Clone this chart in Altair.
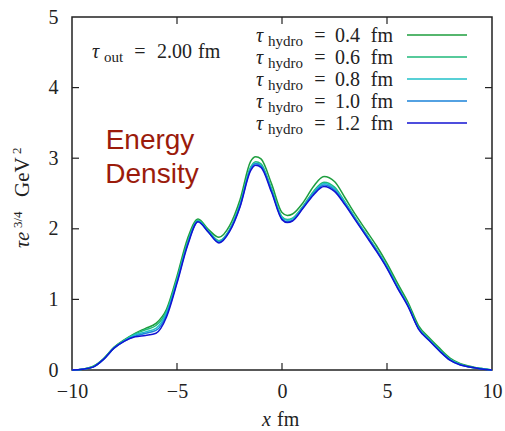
import altair as alt
import pandas as pd

# Transverse profile of tau * e^(3/4) at tau_out = 2.00 fm for several hydro start times
x_fm = [-10, -9.5, -9, -8.5, -8, -7.5, -7, -6.5, -6, -5.5, -5, -4.5, -4, -3.5, -3,
        -2.5, -2, -1.5, -1.25, -1, -0.5, 0, 0.25, 0.5, 1, 1.5, 2, 2.5, 3, 3.5, 4,
        4.5, 5, 5.5, 6, 6.5, 7, 7.5, 8, 8.5, 9, 9.5, 10]

e_04 = [0.00, 0.01, 0.05, 0.16, 0.32, 0.43, 0.52, 0.59, 0.66, 0.86, 1.33, 1.86, 2.14, 1.99, 1.88,
        2.04, 2.41, 2.95, 3.02, 2.99, 2.64, 2.23, 2.19, 2.21, 2.37, 2.60, 2.74, 2.67, 2.44, 2.20, 1.98,
        1.76, 1.51, 1.23, 0.96, 0.63, 0.46, 0.31, 0.17, 0.09, 0.05, 0.02, 0.00]
e_06 = [0.00, 0.01, 0.05, 0.16, 0.32, 0.42, 0.51, 0.57, 0.63, 0.83, 1.29, 1.81, 2.12, 1.97, 1.83,
        1.99, 2.35, 2.87, 2.95, 2.92, 2.57, 2.17, 2.13, 2.15, 2.32, 2.53, 2.66, 2.59, 2.38, 2.15, 1.93,
        1.71, 1.47, 1.19, 0.92, 0.60, 0.44, 0.29, 0.15, 0.08, 0.04, 0.02, 0.00]
e_08 = [0.00, 0.01, 0.04, 0.15, 0.31, 0.42, 0.50, 0.54, 0.59, 0.81, 1.27, 1.79, 2.11, 1.96, 1.82,
        1.98, 2.34, 2.86, 2.93, 2.90, 2.55, 2.16, 2.12, 2.14, 2.31, 2.51, 2.64, 2.57, 2.37, 2.14, 1.92,
        1.70, 1.46, 1.18, 0.92, 0.59, 0.43, 0.28, 0.15, 0.08, 0.04, 0.02, 0.00]
e_10 = [0.00, 0.01, 0.04, 0.15, 0.31, 0.41, 0.48, 0.52, 0.56, 0.78, 1.25, 1.78, 2.10, 1.95, 1.81,
        1.97, 2.32, 2.84, 2.92, 2.89, 2.54, 2.14, 2.10, 2.12, 2.30, 2.50, 2.62, 2.55, 2.35, 2.13, 1.91,
        1.69, 1.45, 1.17, 0.91, 0.59, 0.42, 0.27, 0.14, 0.07, 0.04, 0.015, 0.00]
e_12 = [0.00, 0.01, 0.04, 0.15, 0.31, 0.41, 0.47, 0.49, 0.52, 0.75, 1.23, 1.76, 2.10, 1.95, 1.80,
        1.96, 2.31, 2.82, 2.90, 2.87, 2.52, 2.13, 2.09, 2.11, 2.29, 2.48, 2.60, 2.53, 2.34, 2.12, 1.90,
        1.68, 1.44, 1.16, 0.90, 0.58, 0.42, 0.27, 0.14, 0.07, 0.04, 0.015, 0.00]

tau_hydro = ["0.4", "0.6", "0.8", "1.0", "1.2"]
colors = ["#1e9e3e", "#1fb97a", "#20c1c9", "#1a82d9", "#1212d2"]
series = [e_04, e_06, e_08, e_10, e_12]

x_ticks = [-10, -5, 0, 5, 10]
y_ticks = [0, 1, 2, 3, 4, 5]
inner_x_ticks = [-5, 0, 5]
inner_y_ticks = [1, 2, 3, 4]

SERIF = "Liberation Serif"
SANS = "Liberation Sans"
INK = "#222222"
W, H = 420, 353

records = []
for tau, vals in zip(tau_hydro, series):
    for xv, ev in zip(x_fm, vals):
        records.append({"x": xv, "e": ev, "tau": tau})
df = pd.DataFrame(records)

xs = alt.Scale(domain=[-10, 10], nice=False, zero=False)
ys = alt.Scale(domain=[0, 5], nice=False)
cs = alt.Scale(domain=tau_hydro, range=colors)

x_axis = alt.Axis(values=x_ticks, title=None, labelPadding=11, labelFlush=False,
                  domain=False, ticks=False, grid=False, labelFont=SERIF,
                  labelFontSize=20, labelColor=INK)
y_axis = alt.Axis(values=y_ticks, title=None, labelPadding=14,
                  domain=False, ticks=False, grid=False, labelFont=SERIF,
                  labelFontSize=20, labelColor=INK)

lines = alt.Chart(df).mark_line(strokeWidth=1.5, interpolate="monotone").encode(
    x=alt.X("x:Q", scale=xs, axis=x_axis),
    y=alt.Y("e:Q", scale=ys, axis=y_axis),
    color=alt.Color("tau:N", scale=cs, legend=None),
    detail="tau:N",
)

# inward tick marks on all four sides of the frame
tick = dict(color=INK, strokeWidth=1.2)
xt = pd.DataFrame({"x": inner_x_ticks})
yt = pd.DataFrame({"e": inner_y_ticks})
ticks_bottom = alt.Chart(xt).mark_rule(**tick).encode(
    x=alt.X("x:Q", scale=xs, axis=x_axis), y=alt.value(H), y2=alt.value(H - 7))
ticks_top = alt.Chart(xt).mark_rule(**tick).encode(
    x=alt.X("x:Q", scale=xs, axis=x_axis), y=alt.value(0), y2=alt.value(7))
ticks_left = alt.Chart(yt).mark_rule(**tick).encode(
    y=alt.Y("e:Q", scale=ys, axis=y_axis), x=alt.value(0), x2=alt.value(7))
ticks_right = alt.Chart(yt).mark_rule(**tick).encode(
    y=alt.Y("e:Q", scale=ys, axis=y_axis), x=alt.value(W), x2=alt.value(W - 7))


def label(text, x, y, size=20, font=SERIF, style="normal", align="left",
          angle=0, color=INK):
    return alt.Chart(pd.DataFrame({"t": [text]})).mark_text(
        font=font, fontSize=size, fontStyle=style, align=align,
        baseline="alphabetic", angle=angle, color=color,
    ).encode(x=alt.value(x), y=alt.value(y), text="t:N")


texts = [
    # tau_out annotation
    label("τ", 20, 41, style="italic"),
    label("out", 32, 45, size=15),
    label("=", 68, 41, align="center"),
    label("2.00", 85, 41),
    label("fm", 126, 41),
    # Energy Density
    label("Energy", 78, 132, size=28, font=SANS, align="center", color="#9b1b0b"),
    label("Density", 80, 166, size=28, font=SANS, align="center", color="#9b1b0b"),
    # x-axis title
    label("x", 190, 409, style="italic"),
    label("fm", 205, 409),
    # y-axis title (rotated)
    label("τe", -43, 231, style="italic", angle=270),
    label("3/4", -50, 211, size=13, angle=270),
    label("GeV", -43, 180, size=21, angle=270),
    label("2", -51, 137, size=13, angle=270),
]

# legend rows
leg = pd.DataFrame({"tau": tau_hydro, "row": list(range(len(tau_hydro)))})
leg_base = alt.Chart(leg).transform_calculate(
    ly="25 + 22 * datum.row", sy="29 + 22 * datum.row", ry="18 + 22 * datum.row")
txt = dict(font=SERIF, fontSize=20, color=INK, baseline="alphabetic")
leg_tau = leg_base.mark_text(text="τ", fontStyle="italic", align="left", **txt).encode(
    x=alt.value(184), y=alt.Y("ly:Q", scale=None, axis=None))
leg_sub = leg_base.mark_text(text="hydro", font=SERIF, fontSize=15, color=INK,
                             align="left", baseline="alphabetic").encode(
    x=alt.value(196), y=alt.Y("sy:Q", scale=None, axis=None))
leg_eq = leg_base.mark_text(text="=", align="center", **txt).encode(
    x=alt.value(248), y=alt.Y("ly:Q", scale=None, axis=None))
leg_val = leg_base.mark_text(align="left", **txt).encode(
    x=alt.value(263), y=alt.Y("ly:Q", scale=None, axis=None), text="tau:N")
leg_unit = leg_base.mark_text(text="fm", align="right", **txt).encode(
    x=alt.value(321), y=alt.Y("ly:Q", scale=None, axis=None))
leg_line = leg_base.mark_rule(strokeWidth=1.5).encode(
    x=alt.value(335), x2=alt.value(395), y=alt.Y("ry:Q", scale=None, axis=None),
    color=alt.Color("tau:N", scale=cs, legend=None))

chart = alt.layer(
    lines, ticks_bottom, ticks_top, ticks_left, ticks_right,
    leg_line, leg_tau, leg_sub, leg_eq, leg_val, leg_unit, *texts,
).properties(
    width=W, height=H,
    autosize=alt.AutoSizeParams(type="none"),
    padding={"left": 72, "top": 17, "right": 13, "bottom": 61},
    background="white",
).configure_view(
    stroke=INK, strokeWidth=1.5,
)

chart.save("out.html", embed_options={"renderer": "svg", "actions": False})
